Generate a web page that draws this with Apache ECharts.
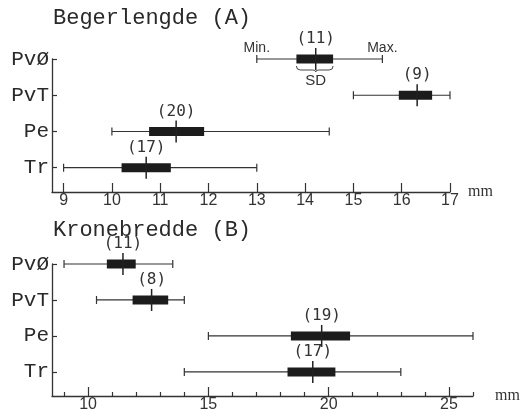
<!DOCTYPE html>
<html>
<head>
<meta charset="utf-8">
<script src="https://cdn.jsdelivr.net/npm/echarts@6/dist/echarts.min.js"></script>
<style>
  html, body { margin: 0; padding: 0; background: #fff; }
  #chart { width: 527px; height: 413px; }
</style>
</head>
<body>
<div id="chart"></div>
<script>
// rows from bottom to top
const groups = ['Tr', 'Pe', 'PvT', 'PvØ'];
const rows = [0, 1, 2, 3];

// (A) Begerlengde, mm
const lenMin  = [9.0, 10.0, 15.0, 13.0];
const lenLow  = [10.2, 10.77, 15.94, 13.82];
const lenMean = [10.71, 11.33, 16.32, 14.22];
const lenHigh = [11.22, 11.91, 16.63, 14.58];
const lenMax  = [13.0, 14.5, 17.0, 15.6];
const lenN    = [17, 20, 9, 11];
const lenTicks = [9, 10, 11, 12, 13, 14, 15, 16, 17];

// (B) Kronebredde, mm
const widMin  = [14.0, 15.0, 10.35, 9.0];
const widLow  = [18.29, 18.43, 11.85, 10.78];
const widMean = [19.34, 19.71, 12.64, 11.45];
const widHigh = [20.28, 20.89, 13.33, 11.98];
const widMax  = [23.0, 26.0, 14.0, 13.52];
const widN    = [17, 19, 8, 11];
const widTicks = [10, 15, 20, 25];
const widMinorTicks = [9, 11, 12, 13, 14, 16, 17, 18, 19, 21, 22, 23, 24, 26];

function buildData(mins, lows, means, highs, maxs, ns) {
  return rows.map((r, i) => [r, mins[i], lows[i], means[i], highs[i], maxs[i], ns[i]]);
}

const ink = '#2a2a2a';
const axisLine = { show: true, onZero: false, lineStyle: { color: '#333', width: 1.3 } };

function renderItem(params, api) {
  const y = api.value(0);
  const pMin = api.coord([api.value(1), y]);
  const pLow = api.coord([api.value(2), y]);
  const pMean = api.coord([api.value(3), y]);
  const pHigh = api.coord([api.value(4), y]);
  const pMax = api.coord([api.value(5), y]);
  const cy = pMin[1];
  const ls = { stroke: '#333', lineWidth: 1.2 };
  const children = [
    { type: 'line', shape: { x1: pMin[0], y1: cy, x2: pMax[0], y2: cy }, style: ls },
    { type: 'line', shape: { x1: pMin[0], y1: cy - 4, x2: pMin[0], y2: cy + 4 }, style: ls },
    { type: 'line', shape: { x1: pMax[0], y1: cy - 4, x2: pMax[0], y2: cy + 4 }, style: ls },
    { type: 'rect', shape: { x: pLow[0], y: cy - 4.5, width: pHigh[0] - pLow[0], height: 9 },
      style: { fill: '#1c1c1c' } },
    { type: 'line', shape: { x1: pMean[0], y1: cy - 11, x2: pMean[0], y2: cy + 11 },
      style: { stroke: '#222', lineWidth: 1.5 } },
    { type: 'text', x: pMean[0], y: cy - 20,
      style: { text: '(' + api.value(6) + ')', align: 'center', verticalAlign: 'middle',
               font: '16px "DejaVu Sans Mono"', fill: '#333' } }
  ];
  // legend-style annotation on the top row of panel A
  if (params.seriesIndex === 0 && y === 3) {
    const small = '14px "Liberation Sans"';
    children.push(
      { type: 'text', x: pMin[0], y: cy - 11,
        style: { text: 'Min.', align: 'center', verticalAlign: 'middle', font: small, fill: '#333' } },
      { type: 'text', x: pMax[0], y: cy - 11,
        style: { text: 'Max.', align: 'center', verticalAlign: 'middle', font: small, fill: '#333' } },
      { type: 'text', x: pMean[0], y: cy + 22,
        style: { text: 'SD', align: 'center', verticalAlign: 'middle', font: '15px "Liberation Sans"', fill: '#333' } }
    );
    const b0 = cy + 7, b1 = cy + 11, b2 = cy + 13;
    const bs = { stroke: '#444', lineWidth: 1, fill: 'none' };
    const x1 = pLow[0], x2 = pHigh[0], m = pMean[0];
    children.push(
      { type: 'bezierCurve', shape: { x1: x1, y1: b0, x2: x1 + 4, y2: b1, cpx1: x1, cpy1: b1 }, style: bs },
      { type: 'line', shape: { x1: x1 + 4, y1: b1, x2: m - 3, y2: b1 }, style: bs },
      { type: 'bezierCurve', shape: { x1: m - 3, y1: b1, x2: m, y2: b2, cpx1: m, cpy1: b1 }, style: bs },
      { type: 'bezierCurve', shape: { x1: m, y1: b2, x2: m + 3, y2: b1, cpx1: m, cpy1: b1 }, style: bs },
      { type: 'line', shape: { x1: m + 3, y1: b1, x2: x2 - 4, y2: b1 }, style: bs },
      { type: 'bezierCurve', shape: { x1: x2 - 4, y1: b1, x2: x2, y2: b0, cpx1: x2, cpy1: b1 }, style: bs }
    );
  }
  return { type: 'group', children: children };
}

function yAxisFor(gridIndex) {
  return {
    type: 'value', gridIndex: gridIndex, min: -0.67, max: 3,
    axisLine: axisLine,
    axisTick: { show: true, inside: true, length: 5, customValues: rows, lineStyle: { color: '#333', width: 1.2 } },
    axisLabel: { customValues: rows, formatter: v => groups[v], margin: 3,
                 fontFamily: 'Liberation Mono', fontSize: 21, color: ink },
    splitLine: { show: false }
  };
}

const chart = echarts.init(document.getElementById('chart'));
chart.setOption({
  animation: false,
  backgroundColor: '#fff',
  title: [
    { text: 'Begerlengde (A)', left: 53, top: 7, padding: 0,
      textStyle: { fontFamily: 'Liberation Mono', fontSize: 22, fontWeight: 'normal', color: ink } },
    { text: 'Kronebredde (B)', left: 53, top: 219, padding: 0,
      textStyle: { fontFamily: 'Liberation Mono', fontSize: 22, fontWeight: 'normal', color: ink } }
  ],
  grid: [
    { left: 52, right: 77, top: 59, height: 133 },
    { left: 52, right: 54, top: 264, height: 132 }
  ],
  xAxis: [
    {
      type: 'value', gridIndex: 0, min: 8.76, max: 17,
      axisLine: axisLine,
      axisTick: { show: true, inside: true, length: 9, customValues: lenTicks, lineStyle: { color: '#333', width: 1.2 } },
      axisLabel: { customValues: lenTicks, margin: 1, fontFamily: 'Liberation Sans', fontSize: 16, color: '#333' },
      splitLine: { show: false },
      name: 'mm', nameLocation: 'end', nameGap: 18,
      nameTextStyle: { fontFamily: 'Liberation Serif', fontSize: 16, color: '#333', verticalAlign: 'middle' }
    },
    {
      type: 'value', gridIndex: 1, min: 8.5, max: 26,
      axisLine: axisLine,
      axisTick: { show: true, inside: true, length: 9, customValues: widTicks, lineStyle: { color: '#333', width: 1.2 } },
      axisLabel: { customValues: widTicks, margin: 1, fontFamily: 'Liberation Sans', fontSize: 16, color: '#333' },
      splitLine: { show: false },
      name: 'mm', nameLocation: 'end', nameGap: 22,
      nameTextStyle: { fontFamily: 'Liberation Serif', fontSize: 16, color: '#333', verticalAlign: 'middle' }
    },
    {
      type: 'value', gridIndex: 1, min: 8.5, max: 26, position: 'bottom',
      axisLine: { show: false, onZero: false },
      axisTick: { show: true, inside: true, length: 4, customValues: widMinorTicks, lineStyle: { color: '#333', width: 1.2 } },
      axisLabel: { show: false },
      splitLine: { show: false }
    }
  ],
  yAxis: [yAxisFor(0), yAxisFor(1)],
  series: [
    {
      type: 'custom', xAxisIndex: 0, yAxisIndex: 0,
      renderItem: renderItem,
      encode: { x: [1, 2, 3, 4, 5], y: 0 },
      data: buildData(lenMin, lenLow, lenMean, lenHigh, lenMax, lenN)
    },
    {
      type: 'custom', xAxisIndex: 1, yAxisIndex: 1,
      renderItem: renderItem,
      encode: { x: [1, 2, 3, 4, 5], y: 0 },
      data: buildData(widMin, widLow, widMean, widHigh, widMax, widN)
    }
  ]
});
</script>
</body>
</html>
